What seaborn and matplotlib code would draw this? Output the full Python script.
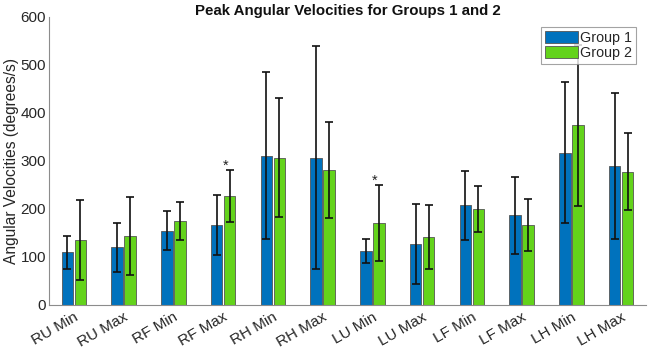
import matplotlib
matplotlib.use("Agg")
import matplotlib.pyplot as plt
import numpy as np
import pandas as pd
import seaborn as sns

categories = ["RU Min", "RU Max", "RF Min", "RF Max", "RH Min", "RH Max",
              "LU Min", "LU Max", "LF Min", "LF Max", "LH Min", "LH Max"]
groups = ["Group 1", "Group 2"]
group1_mean = [110, 120, 155, 167, 311, 307, 113, 127, 208, 187, 317, 290]
group1_err = [34, 51, 40, 62, 174, 233, 25, 84, 72, 80, 147, 152]
group2_mean = [136, 144, 175, 227, 307, 282, 171, 142, 200, 166, 374, 278]
group2_err = [83, 82, 39, 55, 124, 100, 80, 67, 48, 54, 167, 81]
significant = ["RF Max", "LU Min"]  # starred on group 2

colors = ["#0072BD", "#63D31B"]

df = pd.DataFrame({
    "category": categories * 2,
    "group": [groups[0]] * len(categories) + [groups[1]] * len(categories),
    "value": group1_mean + group2_mean,
})

sns.set_style("white")
plt.rcParams["font.family"] = ["Liberation Sans", "DejaVu Sans"]

fig, ax = plt.subplots(figsize=(6.49, 3.48), dpi=100)
fig.subplots_adjust(left=49/649, right=646/649, bottom=1-305/348, top=1-17/348)

sns.barplot(data=df, x="category", y="value", hue="group", palette=colors,
            saturation=1, width=0.52, gap=0.12, errorbar=None,
            edgecolor="#555555", linewidth=0.6, ax=ax)

means = [group1_mean, group2_mean]
errs = [group1_err, group2_err]
bar_conts = list(ax.containers)
for i, cont in enumerate(bar_conts):
    xs = [p.get_x() + p.get_width()/2 for p in cont.patches]
    ax.errorbar(xs, means[i], yerr=errs[i], fmt="none", ecolor="#111111",
                elinewidth=1.2, capsize=3, capthick=1.2, zorder=3)
    if i == 1:
        for x, cat, m, e in zip(xs, categories, means[i], errs[i]):
            if cat in significant:
                ax.text(x - 0.08, m + e, "*", ha="center", va="baseline",
                        fontsize=10.5, color="#222222")

ax.set_ylim(0, 600)
ax.set_xlim(-0.5, 11.5)
ax.set_yticks(range(0, 601, 100))
ax.set_xlabel("")
ax.set_ylabel("Angular Velocities (degrees/s)", fontsize=11.2, color="#262626",
              labelpad=1)
ax.set_title("Peak Angular Velocities for Groups 1 and 2", fontsize=10.8,
             fontweight="bold", color="#111111", pad=1.5)

for s in ["top", "right"]:
    ax.spines[s].set_visible(False)
for s in ["left", "bottom"]:
    ax.spines[s].set_color("#8c8c8c")
    ax.spines[s].set_linewidth(0.8)

ax.tick_params(axis="both", direction="in", length=3, color="#8c8c8c",
               labelsize=11, labelcolor="#262626")
ax.tick_params(axis="y", pad=2)
plt.setp(ax.get_xticklabels(), rotation=30, ha="right", rotation_mode="anchor")

leg = ax.legend(loc="upper right", fontsize=10.3, frameon=True, fancybox=False,
                handlelength=2.3, handleheight=0.9, borderpad=0.25,
                labelspacing=0.12, handletextpad=0.2, borderaxespad=0.7)
leg.get_frame().set_edgecolor("#8c8c8c")
leg.get_frame().set_linewidth(0.8)

plt.savefig("out.png", dpi=100)
